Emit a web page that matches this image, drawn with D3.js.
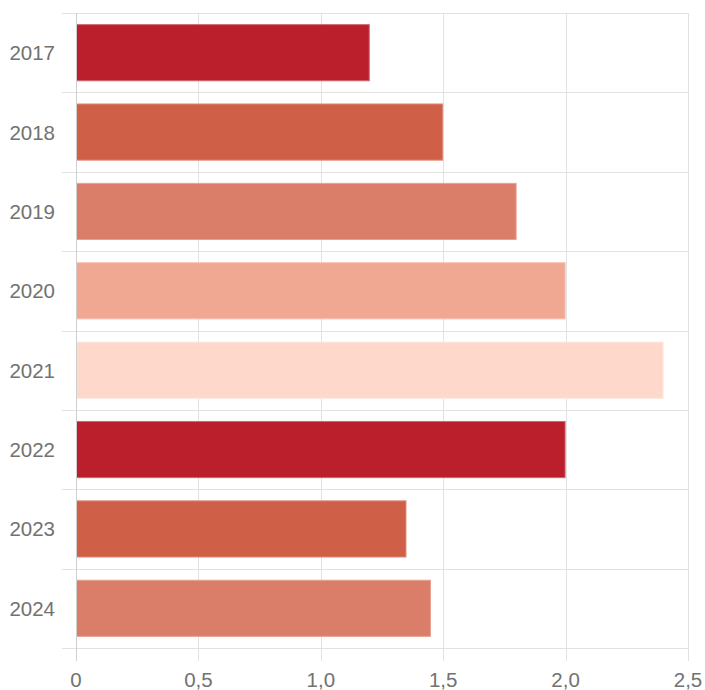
<!DOCTYPE html>
<html><head><meta charset="utf-8">
<script src="https://cdn.jsdelivr.net/npm/d3@7"></script>
<style>body{margin:0;background:#fff}svg{display:block}</style>
</head><body>
<script>
const categories = ["2017","2018","2019","2020","2021","2022","2023","2024"];
const values = [1.2, 1.5, 1.8, 2.0, 2.4, 2.0, 1.35, 1.45];
const colors = ["#bc1f2c","#d05f47","#db7e69","#f1a893","#fed8ca","#bc1f2c","#d05f47","#db7e69"];
const borders = ["#d06670","#de8a78","#e6a193","#f5c1b2","#fee6dd","#d06670","#de8a78","#e6a193"];
const xTicks = [0, 0.5, 1.0, 1.5, 2.0, 2.5];

const W = 705, H = 690;
const svg = d3.select("body").append("svg").attr("width", W).attr("height", H);
const x = d3.scaleLinear().domain([0, 2.5]).range([76, 688]);
const y = d3.scaleBand().domain(categories).range([13, 648]).padding(0);
const fmt = d => d === 0 ? "0" : d3.format(".1f")(d).replace(".", ",");
const grid = "#e2e2e2";

// horizontal grid lines (band boundaries)
const bounds = categories.map(c => y(c)).concat([y.range()[1]]);
svg.append("g").selectAll("line").data(bounds).join("line")
  .attr("x1", 62).attr("x2", 688)
  .attr("y1", d => Math.round(d) + 0.5).attr("y2", d => Math.round(d) + 0.5)
  .attr("stroke", grid).attr("stroke-width", 1);

// vertical grid lines
svg.append("g").selectAll("line").data(xTicks).join("line")
  .attr("x1", d => Math.round(x(d)) + 0.5).attr("x2", d => Math.round(x(d)) + 0.5)
  .attr("y1", 13).attr("y2", 661)
  .attr("stroke", grid).attr("stroke-width", 1);

// bars
const bw = y.bandwidth();
svg.append("g").selectAll("rect").data(categories).join("rect")
  .attr("x", x(0) + 0.5)
  .attr("y", d => y(d) + bw * 0.14 + 0.5)
  .attr("width", (d, i) => x(values[i]) - x(0) - 1)
  .attr("height", bw * 0.72 - 1)
  .attr("fill", (d, i) => colors[i])
  .attr("stroke", (d, i) => borders[i])
  .attr("stroke-width", 1);

// zero line on top
svg.append("line")
  .attr("x1", Math.round(x(0)) + 0.5).attr("x2", Math.round(x(0)) + 0.5)
  .attr("y1", 13).attr("y2", 661)
  .attr("stroke", "#cfcfcf").attr("stroke-width", 1);

// y labels
svg.append("g").selectAll("text").data(categories).join("text")
  .attr("x", 55).attr("y", d => y(d) + bw / 2)
  .attr("text-anchor", "end").attr("dominant-baseline", "central")
  .attr("font-family", "Liberation Sans, Arial, sans-serif")
  .attr("font-size", 20.5).attr("fill", "#727272")
  .text(d => d);

// x labels
svg.append("g").selectAll("text").data(xTicks).join("text")
  .attr("x", d => x(d)).attr("y", 687)
  .attr("text-anchor", "middle")
  .attr("font-family", "Liberation Sans, Arial, sans-serif")
  .attr("font-size", 20.5).attr("fill", "#727272")
  .text(fmt);
</script>
</body></html>
